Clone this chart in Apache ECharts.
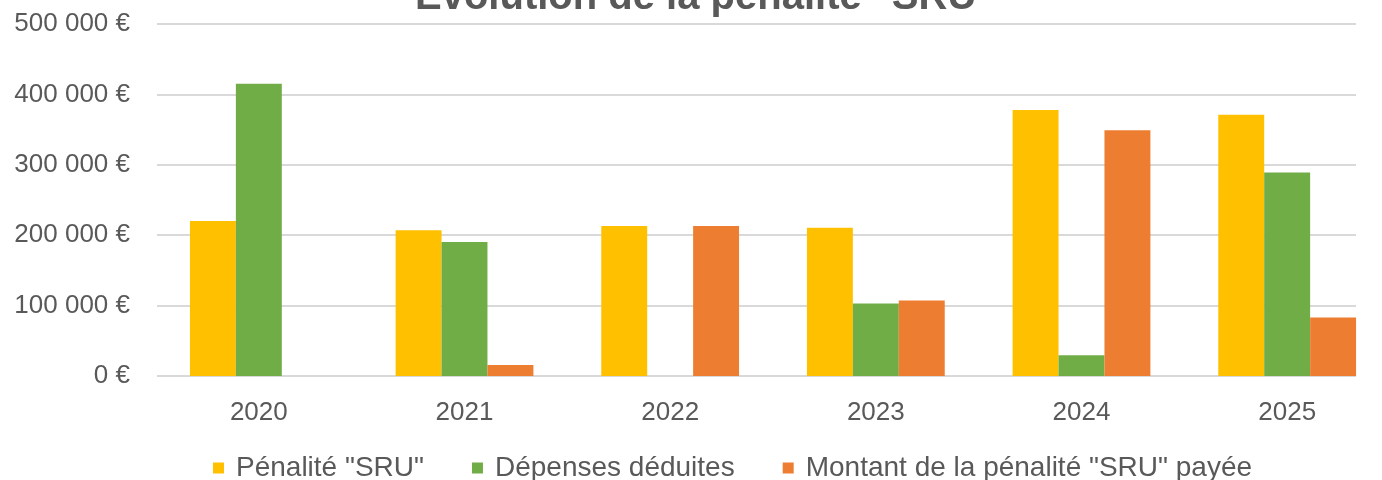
<!DOCTYPE html>
<html>
<head>
<meta charset="utf-8">
<script src="https://cdn.jsdelivr.net/npm/echarts@6/dist/echarts.min.js"></script>
<style>html,body{margin:0;padding:0;background:#fff;overflow:hidden}#c{width:1420px;height:480px}</style>
</head>
<body>
<div id="c"></div>
<script>
const title = 'Évolution de la pénalité "SRU"';
const categories = ['2020', '2021', '2022', '2023', '2024', '2025'];
const seriesNames = ['Pénalité "SRU"', 'Dépenses déduites', 'Montant de la pénalité "SRU" payée'];
const penalite = [220000, 207000, 213000, 210500, 378000, 371000];
const depenses = [415000, 190500, null, 103000, 29500, 289000];
const paye = [null, 15500, 213000, 107300, 349000, 83000];
const yTicks = [0, 100000, 200000, 300000, 400000, 500000];

const FONT = 'Liberation Sans, Arial, sans-serif';
const TXT = '#595959';
const chart = echarts.init(document.getElementById('c'));
function fmt(v) {
  return String(v).replace(/\B(?=(\d{3})+(?!\d))/g, ' ') + ' €';
}
const yMin = yTicks[0], yMax = yTicks[yTicks.length - 1], yInt = yTicks[1] - yTicks[0];
chart.setOption({
  animation: false,
  title: {
    text: title, left: 410, top: -27,
    textStyle: { fontFamily: FONT, fontSize: 40, fontWeight: 'bold', color: TXT }
  },
  legend: {
    top: 449, left: 208, icon: 'rect', itemWidth: 11, itemHeight: 11, itemGap: 48,
    textStyle: { fontFamily: FONT, fontSize: 28, color: TXT, padding: [0, 0, 0, 7] },
    data: seriesNames
  },
  grid: [
    { left: 156, width: 1234, top: 24, bottom: 104, containLabel: false },
    { left: 157, width: 1199, top: 24, bottom: 104, containLabel: false }
  ],
  xAxis: [
    {
      type: 'category', data: categories, gridIndex: 0,
      axisLine: { show: false },
      axisTick: { show: false },
      axisLabel: { fontFamily: FONT, fontSize: 26, color: TXT, margin: 24 }
    },
    {
      type: 'value', gridIndex: 1, show: false, min: 0, max: 1
    }
  ],
  yAxis: [
    {
      type: 'value', gridIndex: 0, min: yMin, max: yMax, interval: yInt,
      axisLine: { show: false }, axisTick: { show: false }, axisLabel: { show: false },
      splitLine: { show: false }
    },
    {
      type: 'value', gridIndex: 1, min: yMin, max: yMax, interval: yInt,
      axisLine: { show: false }, axisTick: { show: false },
      splitLine: { lineStyle: { color: '#D9D9D9', width: 2 } },
      axisLabel: { fontFamily: FONT, fontSize: 26, color: TXT, margin: 27, formatter: fmt }
    }
  ],
  series: [
    { name: seriesNames[0], type: 'bar', data: penalite, itemStyle: { color: '#FFC000' }, barGap: '0%', barCategoryGap: '33%', z: 3 },
    { name: seriesNames[1], type: 'bar', data: depenses, itemStyle: { color: '#70AD47' }, barGap: '0%', barCategoryGap: '33%', z: 3 },
    { name: seriesNames[2], type: 'bar', data: paye, itemStyle: { color: '#ED7D31' }, barGap: '0%', barCategoryGap: '33%', z: 3 }
  ]
});
</script>
</body>
</html>
